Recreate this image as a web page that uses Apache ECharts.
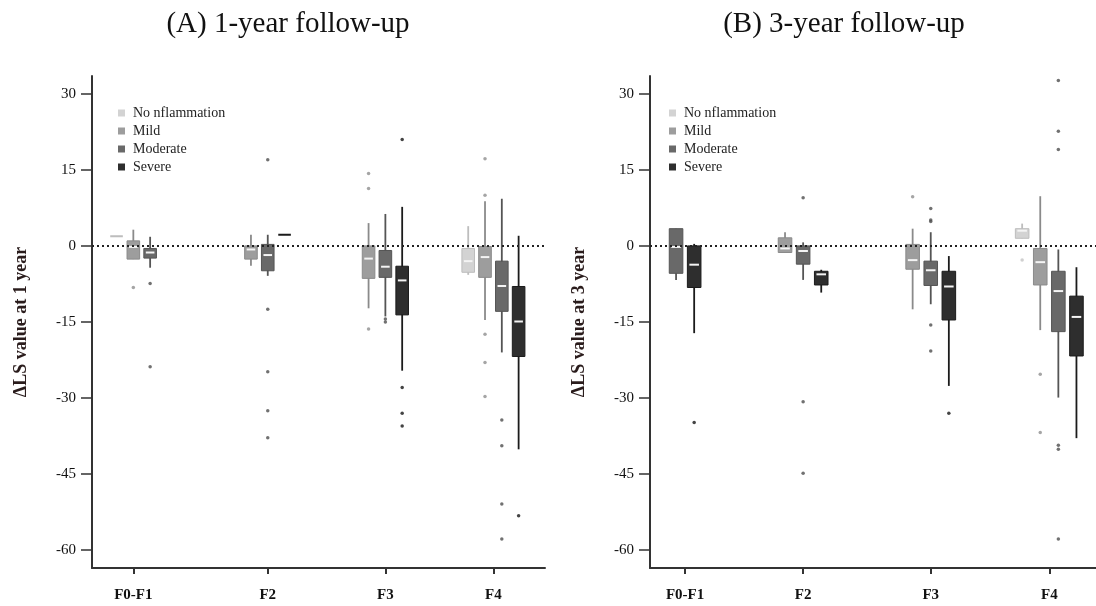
<!DOCTYPE html>
<html lang="en">
<head>
<meta charset="UTF-8">
<title>ΔLS boxplots</title>
<script src="https://cdn.jsdelivr.net/npm/echarts@6/dist/echarts.min.js"></script>
<style>
  html, body { margin: 0; padding: 0; background: #fff; }
  #main { width: 1096px; height: 606px; }
</style>
</head>
<body>
<div id="main"></div>
<script>
// ---- data ----
var groups = ['F0-F1', 'F2', 'F3', 'F4'];
var levels = ['No nflammation', 'Mild', 'Moderate', 'Severe'];
var yTicks = [-60, -45, -30, -15, 0, 15, 30];

// group centres on each panel's x axis (1 unit = one box slot)
var xCentre1 = [2.46, 10.46, 17.46, 23.89];
var xCentre3 = [1.94, 8.46, 15.51, 22.06];

// [lower whisker, Q1, median, Q3, upper whisker] per group, null = no box
var yr1NoInfl   = [[1.9, 1.9, 1.9, 1.9, 1.9], null, null, [-5.7, -5.2, -3.0, -0.5, 3.9]];
var yr1Mild     = [[-2.6, -2.6, -0.2, 1.0, 3.2], [-3.9, -2.6, -0.7, 0, 2.2], [-12.3, -6.4, -2.5, 0, 4.5], [-14.6, -6.2, -2.2, -0.1, 8.8]];
var yr1Moderate = [[-4.3, -2.4, -1.3, -0.5, 1.8], [-5.9, -4.9, -1.8, 0.3, 2.2], [-13.9, -6.2, -4.1, -0.9, 6.3], [-21.0, -12.9, -7.9, -3.0, 9.3]];
var yr1Severe   = [null, [2.2, 2.2, 2.2, 2.2, 2.2], [-24.6, -13.6, -6.8, -4.0, 7.7], [-40.1, -21.8, -14.9, -8.0, 2.0]];

var yr3NoInfl   = [null, null, null, [1.5, 1.5, 3.0, 3.4, 4.4]];
var yr3Mild     = [null, [-1.3, -1.3, -0.5, 1.6, 2.7], [-12.5, -4.6, -2.8, 0.3, 3.4], [-16.6, -7.7, -3.2, -0.5, 9.8]];
var yr3Moderate = [[-6.7, -5.4, -0.2, 3.4, 3.4], [-6.7, -3.6, -1.0, 0, 0.7], [-11.5, -7.8, -4.8, -3.0, 2.7], [-29.9, -16.9, -8.9, -5.0, -0.7]];
var yr3Severe   = [[-17.2, -8.2, -3.7, 0, 0.4], [-9.2, -7.7, -5.6, -5.0, -4.7], [-27.6, -14.6, -8.0, -5.0, -2.0], [-37.9, -21.7, -14.0, -9.9, -4.2]];

// outliers: [group index, value]
var yr1OutNoInfl   = [];
var yr1OutMild     = [[0, -8.2], [2, 14.3], [2, 11.3], [2, -16.4], [3, 17.2], [3, 10.0], [3, -17.4], [3, -23.0], [3, -29.7]];
var yr1OutModerate = [[0, -7.4], [0, -23.8], [1, 17.0], [1, -12.5], [1, -24.8], [1, -32.5], [1, -37.8], [2, -14.4], [2, -15.0], [3, -34.3], [3, -39.4], [3, -50.9], [3, -57.8]];
var yr1OutSevere   = [[2, 21.0], [2, -27.9], [2, -33.0], [2, -35.5], [3, -53.2]];

var yr3OutNoInfl   = [[3, -2.8]];
var yr3OutMild     = [[2, 9.7], [3, -25.3], [3, -36.8]];
var yr3OutModerate = [[1, 9.5], [1, -30.7], [1, -44.8], [2, 7.4], [2, 5.1], [2, 4.8], [2, -15.6], [2, -20.7], [3, 32.6], [3, 22.6], [3, 19.0], [3, -39.3], [3, -40.1], [3, -57.8]];
var yr3OutSevere   = [[0, -34.8], [2, -33.0]];

// ---- styles ----
var serif = "'Liberation Serif', 'Times New Roman', serif";
var fills   = ['#d3d3d3', '#9d9d9d', '#696969', '#2e2e2e'];
var borders = ['#bdbdbd', '#8a8a8a', '#555555', '#1b1b1b'];
var dots    = ['#c4c4c4', '#8e8e8e', '#4e4e4e', '#151515'];
var boxW = 0.75;

var panels = [
    { boxes: [yr1NoInfl, yr1Mild, yr1Moderate, yr1Severe],
      outs: [yr1OutNoInfl, yr1OutMild, yr1OutModerate, yr1OutSevere],
      centres: xCentre1, xMax: 26.96, yName: 'ΔLS value at 1 year' },
    { boxes: [yr3NoInfl, yr3Mild, yr3Moderate, yr3Severe],
      outs: [yr3OutNoInfl, yr3OutMild, yr3OutModerate, yr3OutSevere],
      centres: xCentre3, xMax: 24.64, yName: 'ΔLS value at 3 year' }
];

// x of a box: boxes present in a group sit side by side round the group centre
function slotX(panel, l, g) {
    var present = [];
    for (var k = 0; k < levels.length; k++) {
        if (panel.boxes[k][g]) present.push(k);
    }
    return panel.centres[g] + present.indexOf(l) - (present.length - 1) / 2;
}

function makeRenderer(l) {
    return function (params, api) {
        var x = api.value(0);
        var lo = api.coord([x, api.value(1)]);
        var q1 = api.coord([x, api.value(2)]);
        var md = api.coord([x, api.value(3)]);
        var q3 = api.coord([x, api.value(4)]);
        var hi = api.coord([x, api.value(5)]);
        var w = api.size([boxW, 0])[0];
        var kids = [{
            type: 'line',
            shape: { x1: hi[0], y1: hi[1], x2: lo[0], y2: lo[1] },
            style: { stroke: borders[l], lineWidth: 1.8 }
        }, {
            type: 'rect',
            shape: { x: q3[0] - w / 2, y: q3[1], width: w, height: q1[1] - q3[1] },
            style: { fill: fills[l], stroke: borders[l], lineWidth: q1[1] - q3[1] < 1 ? 2 : 1 }
        }];
        if (q1[1] - q3[1] >= 1) {
            kids.push({
                type: 'line',
                shape: { x1: md[0] - w / 2 + 2, y1: md[1], x2: md[0] + w / 2 - 2, y2: md[1] },
                style: { stroke: '#f4f4f4', lineWidth: 2 }
            });
        }
        return { type: 'group', children: kids };
    };
}

var grids = [
    { left: 92, right: 551, top: 76, bottom: 38 },
    { left: 650, right: 0, top: 76, bottom: 38 }
];
var xAxes = [], yAxes = [], series = [], legends = [];

panels.forEach(function (panel, p) {
    xAxes.push({
        gridIndex: p, type: 'value', min: 0, max: panel.xMax,
        axisLine: { show: true, onZero: false, lineStyle: { color: '#333', width: 2 } },
        axisTick: { show: true, length: 6, customValues: panel.centres, lineStyle: { color: '#333', width: 2 } },
        axisLabel: {
            customValues: panel.centres, margin: 20,
            fontFamily: serif, fontWeight: 'bold', fontSize: 15, color: '#111',
            formatter: function (v) {
                for (var i = 0; i < panel.centres.length; i++) {
                    if (Math.abs(panel.centres[i] - v) < 0.01) return groups[i];
                }
                return '';
            }
        },
        splitLine: { show: false }
    });
    yAxes.push({
        gridIndex: p, type: 'value', min: -63.5, max: 33.5,
        name: panel.yName, nameLocation: 'middle', nameGap: 62,
        nameTextStyle: { fontFamily: serif, fontWeight: 'bold', fontSize: 18, color: '#2a1c1c' },
        axisLine: { show: true, onZero: false, lineStyle: { color: '#333', width: 2 } },
        axisTick: { show: true, length: 11, customValues: yTicks, lineStyle: { color: '#333', width: 1.5 } },
        axisLabel: { customValues: yTicks, margin: 16, fontFamily: serif, fontSize: 15, color: '#111' },
        splitLine: { show: false }
    });

    levels.forEach(function (name, l) {
        var rows = [];
        panel.boxes[l].forEach(function (b, g) {
            if (b) rows.push([slotX(panel, l, g)].concat(b));
        });
        var s = {
            type: 'custom', name: name, xAxisIndex: p, yAxisIndex: p,
            itemStyle: { color: fills[l] },
            encode: { x: 0, y: [1, 2, 3, 4, 5] },
            renderItem: makeRenderer(l),
            data: rows
        };
        if (l === levels.length - 1) {
            s.markLine = {
                silent: true, symbol: 'none', label: { show: false },
                lineStyle: { color: '#222', type: [2, 3], width: 2 },
                data: [{ yAxis: 0 }]
            };
        }
        series.push(s);
        series.push({
            type: 'scatter', name: name, xAxisIndex: p, yAxisIndex: p,
            symbol: 'circle', symbolSize: 3.5,
            itemStyle: { color: dots[l] },
            data: panel.outs[l].map(function (o) { return [slotX(panel, l, o[0]), o[1]]; })
        });
    });

    legends.push({
        data: levels, orient: 'vertical', left: p === 0 ? 113 : 664, top: 100,
        icon: 'rect', itemWidth: 7, itemHeight: 7, itemGap: 2,
        textStyle: { fontFamily: serif, fontSize: 14, color: '#222', lineHeight: 16, padding: [0, 0, 0, 3] }
    });
});

var chart = echarts.init(document.getElementById('main'));
chart.setOption({
    backgroundColor: '#fff',
    animation: false,
    title: [
        { text: '(A) 1-year follow-up', left: 283, top: 5, textAlign: 'center',
          textStyle: { fontFamily: serif, fontWeight: 'normal', fontSize: 29, color: '#111' } },
        { text: '(B) 3-year follow-up', left: 839, top: 5, textAlign: 'center',
          textStyle: { fontFamily: serif, fontWeight: 'normal', fontSize: 29, color: '#111' } }
    ],
    legend: legends,
    grid: grids,
    xAxis: xAxes,
    yAxis: yAxes,
    series: series
});
</script>
</body>
</html>
